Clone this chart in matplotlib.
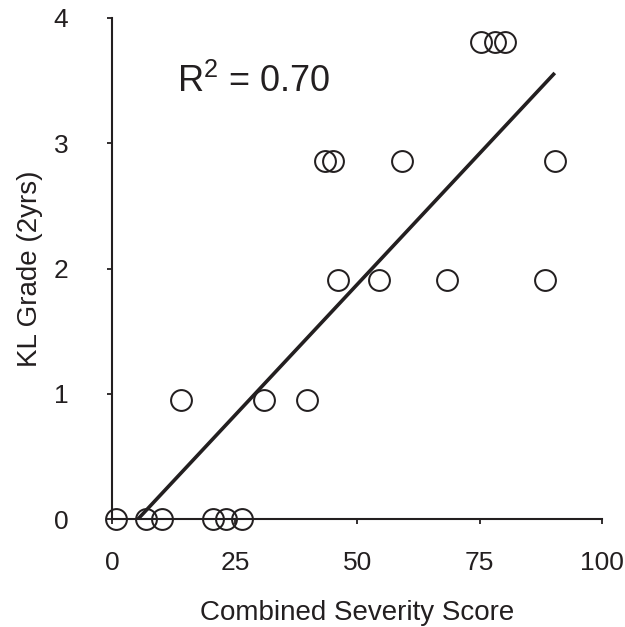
import numpy as np
import matplotlib
matplotlib.use("Agg")
import matplotlib.pyplot as plt

# --- Data ---
severity = [0.75, 6.8, 10.1, 20.6, 23.1, 26.5,
            14.0, 31.0, 39.7,
            46.0, 54.4, 68.4, 88.4,
            43.4, 45.0, 59.2, 90.3,
            75.2, 78.2, 80.1]
kl_grade = [0, 0, 0, 0, 0, 0,
            0.95, 0.95, 0.95,
            1.91, 1.91, 1.91, 1.91,
            2.86, 2.86, 2.86, 2.86,
            3.81, 3.81, 3.81]
x_ticks = [0, 25, 50, 75, 100]
y_ticks = [0, 1, 2, 3, 4]
r2_label = "0.70"

ink = "#231f20"
plt.rcParams["font.family"] = ["Liberation Sans", "DejaVu Sans"]
plt.rcParams["mathtext.default"] = "regular"

# --- Figure ---
fig = plt.figure(figsize=(6.25, 6.27), dpi=100)
ax = fig.add_axes([0.1797, 0.1718, 0.7840, 0.7995])

ax.plot(severity, kl_grade, "o", ms=15, mfc="none", mec=ink, mew=1.45,
        clip_on=False, zorder=3)

# --- Regression line ---
slope, intercept = np.polyfit(severity, kl_grade, 1)
x_line = np.array([-intercept / slope, max(severity)])
ax.plot(x_line, slope * x_line + intercept, color=ink, lw=2.6,
        solid_capstyle="butt", zorder=2)

ax.text(13.1, 3.41, r"R$^2$ = " + r2_label, fontsize=26, color=ink,
        ha="left", va="baseline")

# --- Axes ---
ax.set_xlim(0, 100)
ax.set_ylim(0, 4)
ax.set_xticks(x_ticks)
ax.set_yticks(y_ticks)
for s in ["top", "right"]:
    ax.spines[s].set_visible(False)
for s in ["left", "bottom"]:
    ax.spines[s].set_linewidth(1.5)
    ax.spines[s].set_color(ink)
ax.tick_params(axis="both", direction="out", length=3.8, width=1.3,
               color=ink, labelcolor=ink, labelsize=19)
ax.tick_params(axis="x", pad=19)
ax.tick_params(axis="y", pad=28)

ax.set_xlabel("Combined Severity Score", fontsize=20, color=ink, va="baseline")
ax.set_ylabel("KL Grade (2yrs)", fontsize=20, color=ink, va="baseline")
ax.xaxis.set_label_coords(0.5, -0.2)
ax.yaxis.set_label_coords(-0.154, 0.5)

fig.savefig("out.png", dpi=100)
